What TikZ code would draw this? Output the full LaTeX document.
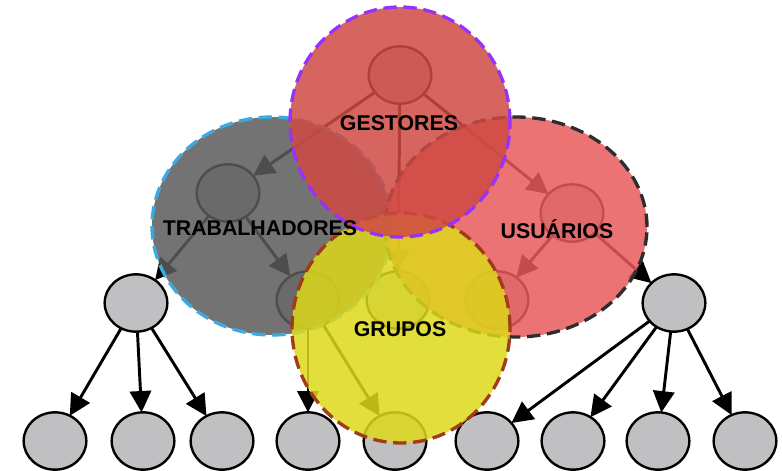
\documentclass[tikz,border=0pt]{standalone}
\usepackage{fontspec}
\setmainfont{Liberation Sans}
\usepackage{tkz-graph}
\usetikzlibrary{arrows.meta,shapes.geometric}

\definecolor{nodegray}{RGB}{192,192,195}
\definecolor{trabfill}{RGB}{91,91,91}
\definecolor{usufill}{RGB}{232,90,90}
\definecolor{gestfill}{RGB}{207,73,67}
\definecolor{grupfill}{RGB}{221,216,26}
\definecolor{trabline}{RGB}{58,170,225}
\definecolor{usuline}{RGB}{45,45,45}
\definecolor{gestline}{RGB}{150,50,250}
\definecolor{grupline}{RGB}{160,60,25}

\begin{document}
\begin{tikzpicture}[x=0.75pt,y=-0.75pt,
		area/.style={fill opacity=0.85,line width=2.5pt,dash pattern=on 10pt off 5pt},
		areatext/.style={font=\bfseries\fontsize{16}{18}\selectfont}]
		\GraphInit[vstyle=Normal]
		\tikzset{VertexStyle/.style={draw,ellipse,fill=nodegray,line width=1.8pt,
				minimum width=47pt,minimum height=43pt,inner sep=0pt},
			EdgeStyle/.style={-{Triangle[length=16pt,width=16pt]},line width=2.2pt,draw=black}}
		\useasboundingbox (0,0) rectangle (782,471);
		
		\Vertex[x=400,y=75,NoLabel]{1}
		\Vertex[x=228,y=193,NoLabel]{2}
		\Vertex[x=572,y=213,NoLabel]{3}
		\Vertex[x=136,y=303,NoLabel]{4}
		\Vertex[x=308,y=300,NoLabel]{5}
		\Vertex[x=398,y=300,NoLabel]{6}
		\Vertex[x=497,y=300,NoLabel]{7}
		\Vertex[x=674,y=303,NoLabel]{8}
		\Vertex[x=55,y=441,NoLabel]{9}
		\Vertex[x=143,y=441,NoLabel]{10}
		\Vertex[x=222,y=441,NoLabel]{11}
		\Vertex[x=308,y=441,NoLabel]{12}
		\Vertex[x=395,y=441,NoLabel]{13}
		\Vertex[x=487,y=441,NoLabel]{14}
		\Vertex[x=573,y=441,NoLabel]{15}
		\Vertex[x=658,y=441,NoLabel]{16}
		\Vertex[x=745,y=441,NoLabel]{17}
		
		\Edges(1, 2)
		\Edges(1, 3)
		\Edges(1, 6)
		\Edges(2, 4)
		\Edges(2, 5)
		\Edges(3, 7)
		\Edges(3, 8)
		\Edges(4, 9)
		\Edges(4, 10)
		\Edges(4, 11)
		\Edges(5, 12)
		\Edges(5, 13)
		\Edges(8, 14)
		\Edges(8, 15)
		\Edges(8, 16)
		\Edges(8, 17)
		
		% the four groups over the tree
		\draw[area,fill=trabfill,draw=trabline] (272,226) ellipse [x radius=90pt,y radius=81.75pt];
		\draw[area,fill=usufill,draw=usuline] (516,227) ellipse [x radius=98.25pt,y radius=82.5pt];
		\draw[area,fill=grupfill,draw=grupline] (401,328) ellipse [x radius=81.75pt,y radius=86.25pt];
		\draw[area,fill=gestfill,draw=gestline] (400,122) ellipse [x radius=82.5pt,y radius=86.25pt];
		
		\node[areatext] (gest) at (399,123) {GESTORES};
		\node[areatext] (trab) at (260,228) {TRABALHADORES};
		\node[areatext] (usu) at (557,229) {USUÁRIOS};
		\node[areatext] (grup) at (400,329) {GRUPOS};
\end{tikzpicture}
\end{document}
